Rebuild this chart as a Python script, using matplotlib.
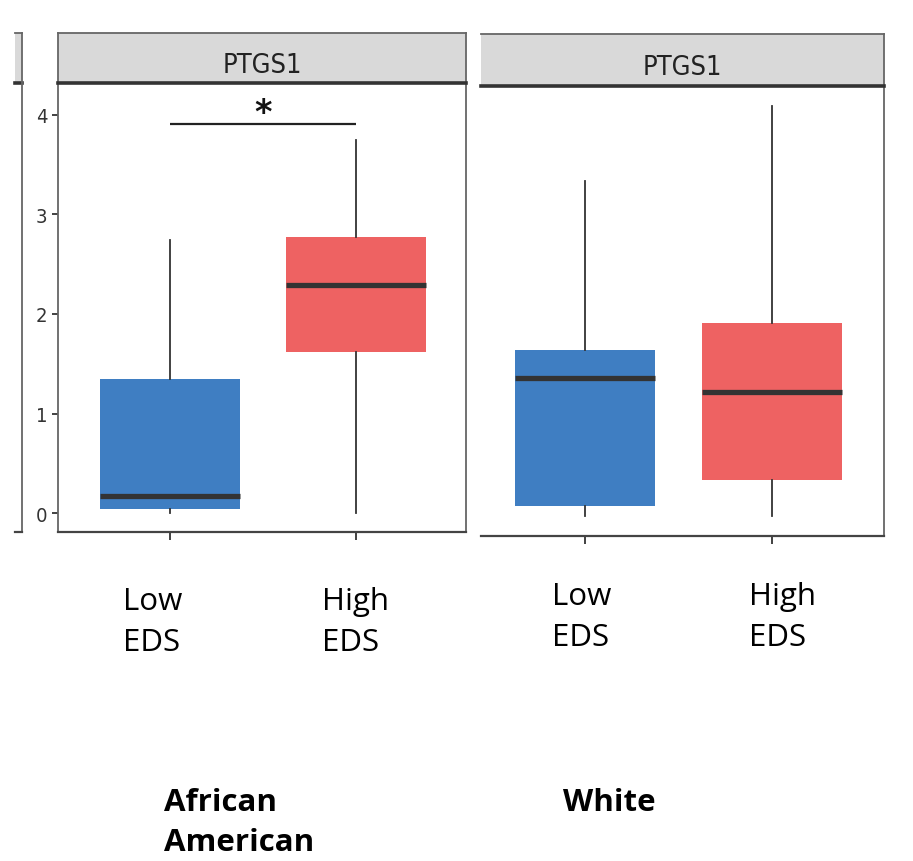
import matplotlib
matplotlib.use('Agg')
import matplotlib.pyplot as plt
from matplotlib.patches import Rectangle
from matplotlib.lines import Line2D
from matplotlib.font_manager import FontProperties

W, H = 913, 862

# ---- data ----
groups = ["Low\nEDS", "High\nEDS"]
panel_titles = ["African\nAmerican", "White"]
gene = "PTGS1"
# five-number summaries: whisker low, Q1, median, Q3, whisker high
aa_low = [0.00, 0.04, 0.17, 1.35, 2.74]
aa_high = [0.00, 1.62, 2.29, 2.77, 3.75]
wh_low = [-0.04, 0.06, 1.35, 1.63, 3.33]
wh_high = [-0.04, 0.32, 1.21, 1.90, 4.09]
yticks = [0, 1, 2, 3, 4]
sig_label = "*"
sig_y = 3.91

box_colors = ["#3f7ec2", "#ee6262"]
LABEL_FONT = ['Open Sans', 'DejaVu Sans']


def narrow(size):
    return FontProperties(family=['Liberation Sans Narrow', 'DejaVu Sans'],
                          stretch='condensed', size=size)


def rect(x0, y0, x1, y1):
    return [x0 / W, 1 - y1 / H, (x1 - x0) / W, (y1 - y0) / H]


def stats(v):
    return dict(whislo=v[0], q1=v[1], med=v[2], q3=v[3], whishi=v[4], fliers=[])


fig = plt.figure(figsize=(W / 100, H / 100), dpi=100)
fig.patch.set_facecolor('white')

panels = [
    dict(ax=rect(58, 84, 466, 533), strip=rect(58, 34, 466, 84), data=[aa_low, aa_high],
         ylim=(-0.19, 4.32), xlim=(0.398, 2.59), left=True),
    dict(ax=rect(481, 87, 884, 537), strip=rect(481, 35, 884, 87), data=[wh_low, wh_high],
         ylim=(-0.24, 4.29), xlim=(0.444, 2.60), left=False),
]

axes = []
for p in panels:
    ax = fig.add_axes(p['ax'])
    bp = ax.bxp([stats(v) for v in p['data']], positions=[1, 2], widths=0.75,
                patch_artist=True, showcaps=False, showfliers=False,
                boxprops=dict(linewidth=0),
                medianprops=dict(color='#333333', linewidth=3.8, solid_capstyle='butt'),
                whiskerprops=dict(color='#333333', linewidth=1.3))
    for patch, c in zip(bp['boxes'], box_colors):
        patch.set_facecolor(c)
        patch.set_edgecolor(c)
    ax.set_xlim(*p['xlim'])
    ax.set_ylim(*p['ylim'])
    ax.set_xticks([1, 2])
    ax.set_xticklabels([])
    ax.tick_params(axis='x', length=6, width=1.3, color='#333333', direction='out')
    ax.spines['top'].set_visible(False)
    for s in ['left', 'right']:
        ax.spines[s].set_color('#666666')
        ax.spines[s].set_linewidth(1.3)
    ax.spines['bottom'].set_color('#444444')
    ax.spines['bottom'].set_linewidth(1.6)
    if p['left']:
        ax.set_yticks(yticks)
        ax.set_yticklabels([str(t) for t in yticks], fontproperties=narrow(14.5), color='#333333')
        ax.tick_params(axis='y', length=4.5, width=1.3, color='#333333', pad=3)
    else:
        ax.spines['left'].set_visible(False)
        ax.set_yticks([])
    axes.append(ax)

    sax = fig.add_axes(p['strip'])
    sax.set_facecolor('#d9d9d9')
    sax.set_xticks([])
    sax.set_yticks([])
    for s in ['top', 'left', 'right']:
        sax.spines[s].set_color('#666666')
        sax.spines[s].set_linewidth(1.3)
    if not p['left']:
        sax.spines['left'].set_visible(False)
    sax.spines['bottom'].set_color('#333333')
    sax.spines['bottom'].set_linewidth(2.6)
    sax.text(0.5, 0.36, gene, transform=sax.transAxes, ha='center', va='center',
             fontproperties=narrow(19.5), color='#222222')

# significance bar on the first panel
ax0 = axes[0]
ax0.plot([1, 2], [sig_y, sig_y], color='#222222', linewidth=1.6, solid_capstyle='butt')
ax0.text(1.5, sig_y - 0.05, sig_label, ha='center', va='bottom', fontsize=24,
         fontweight='bold', color='#111111')

# partial neighbouring panel at the left edge
fig.patches.append(Rectangle((15 / W, 1 - 84 / H), 7 / W, 50 / H, transform=fig.transFigure,
                             facecolor='#d9d9d9', edgecolor='none'))
fig.lines.append(Line2D([15 / W, 22 / W], [1 - 34 / H, 1 - 34 / H], transform=fig.transFigure,
                        color='#666666', linewidth=1.3))
fig.lines.append(Line2D([15 / W, 22 / W], [1 - 84 / H, 1 - 84 / H], transform=fig.transFigure,
                        color='#333333', linewidth=2.6))
fig.lines.append(Line2D([22 / W, 22 / W], [1 - 34 / H, 1 - 533 / H], transform=fig.transFigure,
                        color='#666666', linewidth=1.3))
fig.lines.append(Line2D([15 / W, 22 / W], [1 - 533 / H, 1 - 533 / H], transform=fig.transFigure,
                        color='#444444', linewidth=1.6))

# group labels below panels
label_pos = [(123, 610), (322, 610), (552, 605), (749, 605)]
for (x, y), lab in zip(label_pos, groups * 2):
    for i, line in enumerate(lab.split('\n')):
        fig.text(x / W, 1 - (y + i * 41) / H, line, ha='left', va='baseline',
                 family=LABEL_FONT, fontsize=22.5, color='black')

# population labels
title_pos = [(164, 811), (563, 811)]
for (x, y), lab in zip(title_pos, panel_titles):
    for i, line in enumerate(lab.split('\n')):
        fig.text(x / W, 1 - (y + i * 40) / H, line, ha='left', va='baseline',
                 family=LABEL_FONT, fontsize=22.5, fontweight='bold', color='black')

fig.savefig('out.png', dpi=100, facecolor='white')
